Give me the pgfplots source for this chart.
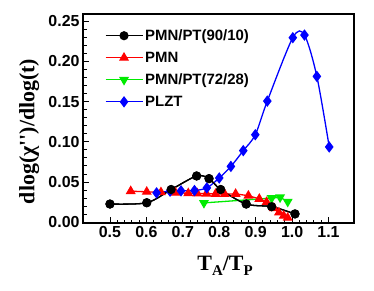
\documentclass[border=0pt]{standalone}
\usepackage{fontspec}
\setmainfont{Liberation Sans}
\newfontfamily\serifb{Liberation Serif}
\usepackage{pgfplots}
\usepackage{pgfplotstable}
\pgfplotsset{compat=1.18}
\definecolor{cred}{RGB}{255,0,0}
\definecolor{cgreen}{RGB}{0,235,0}
\definecolor{cblue}{RGB}{0,0,255}

\pgfplotstableread{
x y
0.500 0.0226
0.601 0.0242
0.668 0.0406
0.738 0.0575
0.772 0.0542
0.804 0.0406
0.874 0.0226
0.944 0.0193
1.008 0.0103
}\tblack
\pgfplotstableread{
x y
0.557 0.0386
0.601 0.0378
0.640 0.0372
0.680 0.0366
0.715 0.0360
0.740 0.0358
0.765 0.0355
0.790 0.0352
0.815 0.0350
0.845 0.0352
0.880 0.0330
0.910 0.0290
0.930 0.0250
0.950 0.0175
0.964 0.0120
0.977 0.0080
0.988 0.0055
}\tred
\pgfplotstableread{
x y
0.758 0.0240
0.944 0.0300
0.967 0.0310
0.988 0.0255
}\tgreen
\pgfplotstableread{
x y
0.628 0.0365
0.665 0.0386
0.695 0.0390
0.732 0.0394
0.766 0.0427
0.800 0.0550
0.832 0.0694
0.866 0.0890
0.899 0.1088
0.932 0.1507
1.002 0.2295
1.034 0.2328
1.068 0.1814
1.102 0.0936
}\tblue

\begin{document}
\begin{tikzpicture}
\useasboundingbox (0,0) rectangle (374bp,291bp);
\begin{axis}[
  at={(83bp,68bp)}, anchor=south west,
  scale only axis, width=271bp, height=209bp,
  xmin=0.426, xmax=1.17, ymin=-0.001, ymax=0.259,
  xtick={0.5,0.6,0.7,0.8,0.9,1.0,1.1},
  ytick={0,0.05,0.10,0.15,0.20,0.25},
  minor x tick num=4, minor y tick num=4,
  tick pos=left, tick align=inside,
  major tick length=6bp, minor tick length=3.5bp,
  axis line style={line width=1.3bp},
  every tick/.style={line width=0.9bp, black},
  xticklabel style={/pgf/number format/.cd, fixed, fixed zerofill, precision=1, assume math mode=true},
  yticklabel style={/pgf/number format/.cd, fixed, fixed zerofill, precision=2, assume math mode=true},
  ticklabel style={font=\fontsize{16}{18}\selectfont\bfseries},
  xlabel={T\raisebox{-5bp}{\fontsize{15}{15}\selectfont A}/T\raisebox{-5bp}{\fontsize{15}{15}\selectfont P}},
  ylabel={dlog(χ'\kern0pt')/dlog(t)},
  every axis x label/.style={at={(axis description cs:0.524,-0.225)}, anchor=base, font=\fontsize{22}{26}\serifb\bfseries},
  every axis y label/.style={at={(axis description cs:-0.199,0.438)}, rotate=90, anchor=center, font=\fontsize{22}{26}\serifb\bfseries},
  legend style={at={(axis description cs:0.08,0.936)}, anchor=north west, draw=none, fill=none,
    inner sep=0pt, row sep=6bp, font=\fontsize{15}{17}\selectfont\bfseries},
  legend cell align=left,
  legend image code/.code={\draw[mark repeat=2,mark phase=2,#1] plot coordinates {(0bp,0bp) (18.5bp,0bp) (37bp,0bp)};},
]
\addplot[black, line width=1.3bp, smooth, mark=*, mark size=3.9bp] table {\tblack};
\addlegendentry{PMN/PT(90/10)}
\addplot[cred, line width=1.3bp, mark=triangle*, mark size=4.5bp] table {\tred};
\addlegendentry{PMN}
\addplot[cgreen, line width=1.3bp, mark=triangle*, mark size=4.5bp, mark options={rotate=180}] table {\tgreen};
\addlegendentry{PMN/PT(72/28)}
\addplot[cblue, line width=1.3bp, smooth, mark=diamond*, mark size=4.7bp] table {\tblue};
\addlegendentry{PLZT}
\addplot[black, line width=1.3bp, smooth, mark=*, mark size=3.9bp, forget plot] table {\tblack};
\end{axis}
\end{tikzpicture}
\end{document}
